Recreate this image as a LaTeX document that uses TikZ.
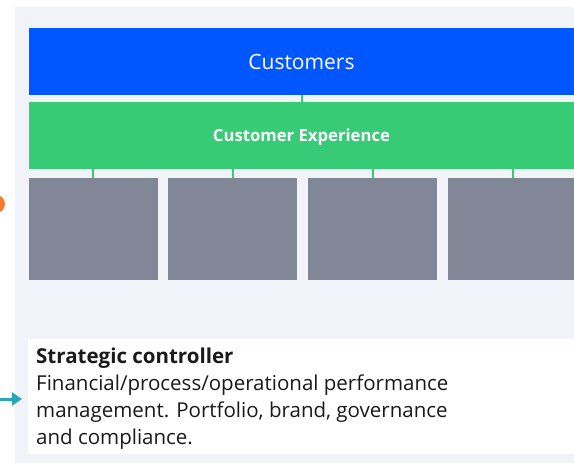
\documentclass[tikz,border=0pt]{standalone}
\usepackage{fontspec}
\setmainfont{Open Sans}
\usetikzlibrary{arrows.meta}
\definecolor{panel}{HTML}{F2F3F8}
\definecolor{cblue}{HTML}{0057FF}
\definecolor{cgreen}{HTML}{38CB76}
\definecolor{cgray}{HTML}{828798}
\definecolor{corange}{HTML}{F47B2A}
\definecolor{cteal}{HTML}{2AA6B8}
\definecolor{ctext}{HTML}{1A1A1A}
\begin{document}
\begin{tikzpicture}[x=1pt,y=-1pt,
  box/.style={draw=none,inner sep=0pt,outer sep=0pt,anchor=north west},
  conn/.style={draw=cgreen,line width=1.2pt},
]
\useasboundingbox (0,0) rectangle (574,463);
\begin{scope}
\clip (0,0) rectangle (574,463);
\fill[panel] (15,7) rectangle (574,463);
\fill[corange] (-4,204) circle (9);
\end{scope}
\node[box,fill=cblue,minimum width=545pt,minimum height=67pt] (cust) at (29,28) {};
\node[text=white,font=\fontsize{21}{25}\selectfont] at (cust.center) {Customers};
\node[box,fill=cgreen,minimum width=545pt,minimum height=67pt] (cx) at (29,102) {};
\node[text=white,font=\fontsize{16.7}{20}\selectfont\bfseries,anchor=base] at ([yshift=-6pt]cx.center) {Customer Experience};
\node[box,fill=cgray,minimum width=129pt,minimum height=102pt] (g1) at (29,178) {};
\node[box,fill=cgray,minimum width=129pt,minimum height=102pt] (g2) at (168,178) {};
\node[box,fill=cgray,minimum width=129pt,minimum height=102pt] (g3) at (308,178) {};
\node[box,fill=cgray,minimum width=126pt,minimum height=102pt] (g4) at (448,178) {};
\draw[conn] (cust.south -| 302,0) -- (cx.north -| 302,0);
\draw[conn] (cx.south -| 93,0) -- (g1.north -| 93,0);
\draw[conn] (cx.south -| 233,0) -- (g2.north -| 233,0);
\draw[conn] (cx.south -| 373,0) -- (g3.north -| 373,0);
\draw[conn] (cx.south -| 513,0) -- (g4.north -| 513,0);
\node[box,fill=white,minimum width=546pt,minimum height=115pt] (sc) at (28,339) {};
\node[anchor=north west,inner sep=0pt,text=ctext,align=left,font=\fontsize{20.5}{26.7}\selectfont] (sct) at (36,348)
 {\textbf{Strategic controller}\\[0.3pt]Financial/process/operational performance\\management. Portfolio, brand, governance\\and compliance.};
\coordinate (arrstart) at (0,399);
\draw[cteal,line width=3pt,-{Triangle[length=10pt,width=13pt]}] (arrstart) -- (22,399);
\end{tikzpicture}
\end{document}
